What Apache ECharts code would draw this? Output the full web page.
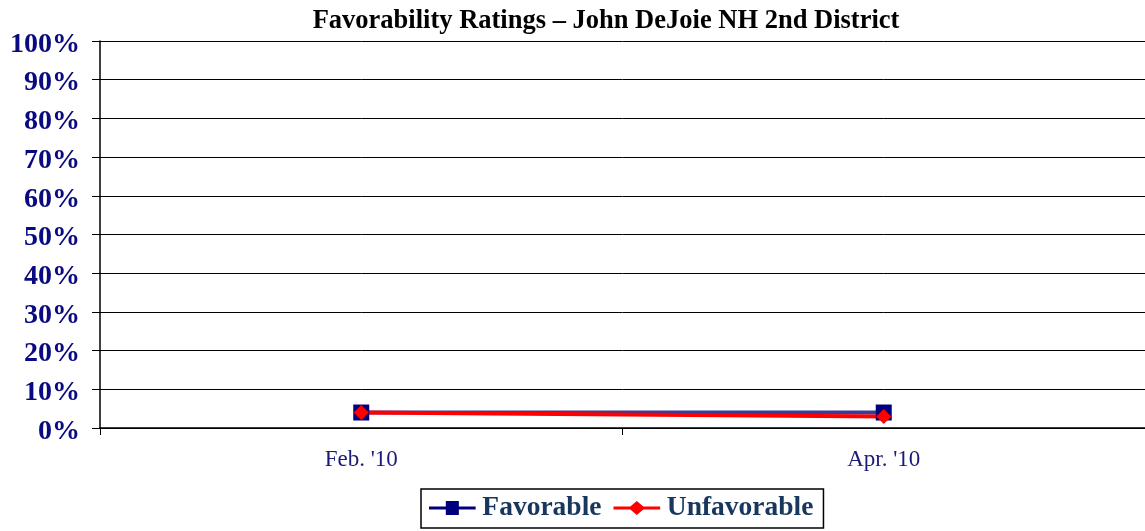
<!DOCTYPE html>
<html>
<head>
<meta charset="utf-8">
<script src="https://cdn.jsdelivr.net/npm/echarts@6/dist/echarts.min.js"></script>
<style>html,body{margin:0;padding:0;background:#fff}#c{width:1145px;height:531px}</style>
</head>
<body>
<div id="c"></div>
<script>
var categories = ["Feb. '10", "Apr. '10"];
var favorable = [4, 4];
var unfavorable = [4, 3];
var yTicks = [0, 10, 20, 30, 40, 50, 60, 70, 80, 90, 100];

var chart = echarts.init(document.getElementById('c'));
chart.setOption({
  animation: false,
  backgroundColor: '#fff',
  title: {
    text: 'Favorability Ratings \u2013 John DeJoie NH 2nd District',
    left: 601, top: 3, textAlign: 'center',
    textStyle: {fontFamily: 'Liberation Serif', fontWeight: 'bold', fontSize: 26.5, color: '#000'}
  },
  legend: {
    left: 421, top: 489,
    itemWidth: 50, itemHeight: 14, itemGap: 12,
    padding: [5, 10, 6, 8],
    borderColor: '#000', borderWidth: 1.5,
    textStyle: {fontFamily: 'Liberation Serif', fontWeight: 'bold', fontSize: 27.5, color: '#17375E'},
    data: [
      {name: 'Favorable', icon: 'path://M0,6L18,6L18,0L32,0L32,6L50,6L50,9L32,9L32,15L18,15L18,9L0,9Z'},
      {name: 'Unfavorable', icon: 'path://M0,6L18,6L25,0L32,6L50,6L50,9L32,9L25,15L18,9L0,9Z'}
    ]
  },
  grid: {left: 100, right: 0, top: 41, bottom: 103},
  xAxis: {
    type: 'category', data: categories, boundaryGap: true,
    axisLine: {lineStyle: {color: '#000', width: 1.5}},
    axisTick: {show: true, length: 7, lineStyle: {color: '#000'}},
    axisLabel: {fontFamily: 'Liberation Serif', fontSize: 23, color: '#1A1A7A', margin: 20}
  },
  yAxis: {
    type: 'value', min: 0, max: 100, interval: 10,
    axisLine: {show: true, lineStyle: {color: '#000', width: 1.5}},
    axisTick: {show: true, length: 8, lineStyle: {color: '#000'}},
    splitLine: {lineStyle: {color: '#000', width: 1}},
    axisLabel: {
      margin: 20,
      formatter: function (v) { return yTicks.indexOf(v) >= 0 ? '{p|' + v + '%}' : ''; },
      rich: {
        p: {fontFamily: 'Liberation Serif', fontWeight: 'bold', fontSize: 28, color: '#0A0A80', padding: [7, 0, 0, 0]}
      }
    }
  },
  series: [
    {
      name: 'Favorable', type: 'line', data: favorable,
      symbol: 'rect', symbolSize: 16,
      lineStyle: {color: '#3A3A9A', width: 4},
      itemStyle: {color: '#00007F'}
    },
    {
      name: 'Unfavorable', type: 'line', data: unfavorable,
      symbol: 'diamond', symbolSize: 15,
      lineStyle: {color: '#FF0000', width: 4},
      itemStyle: {color: '#FF0000'}
    }
  ]
});
</script>
</body>
</html>
